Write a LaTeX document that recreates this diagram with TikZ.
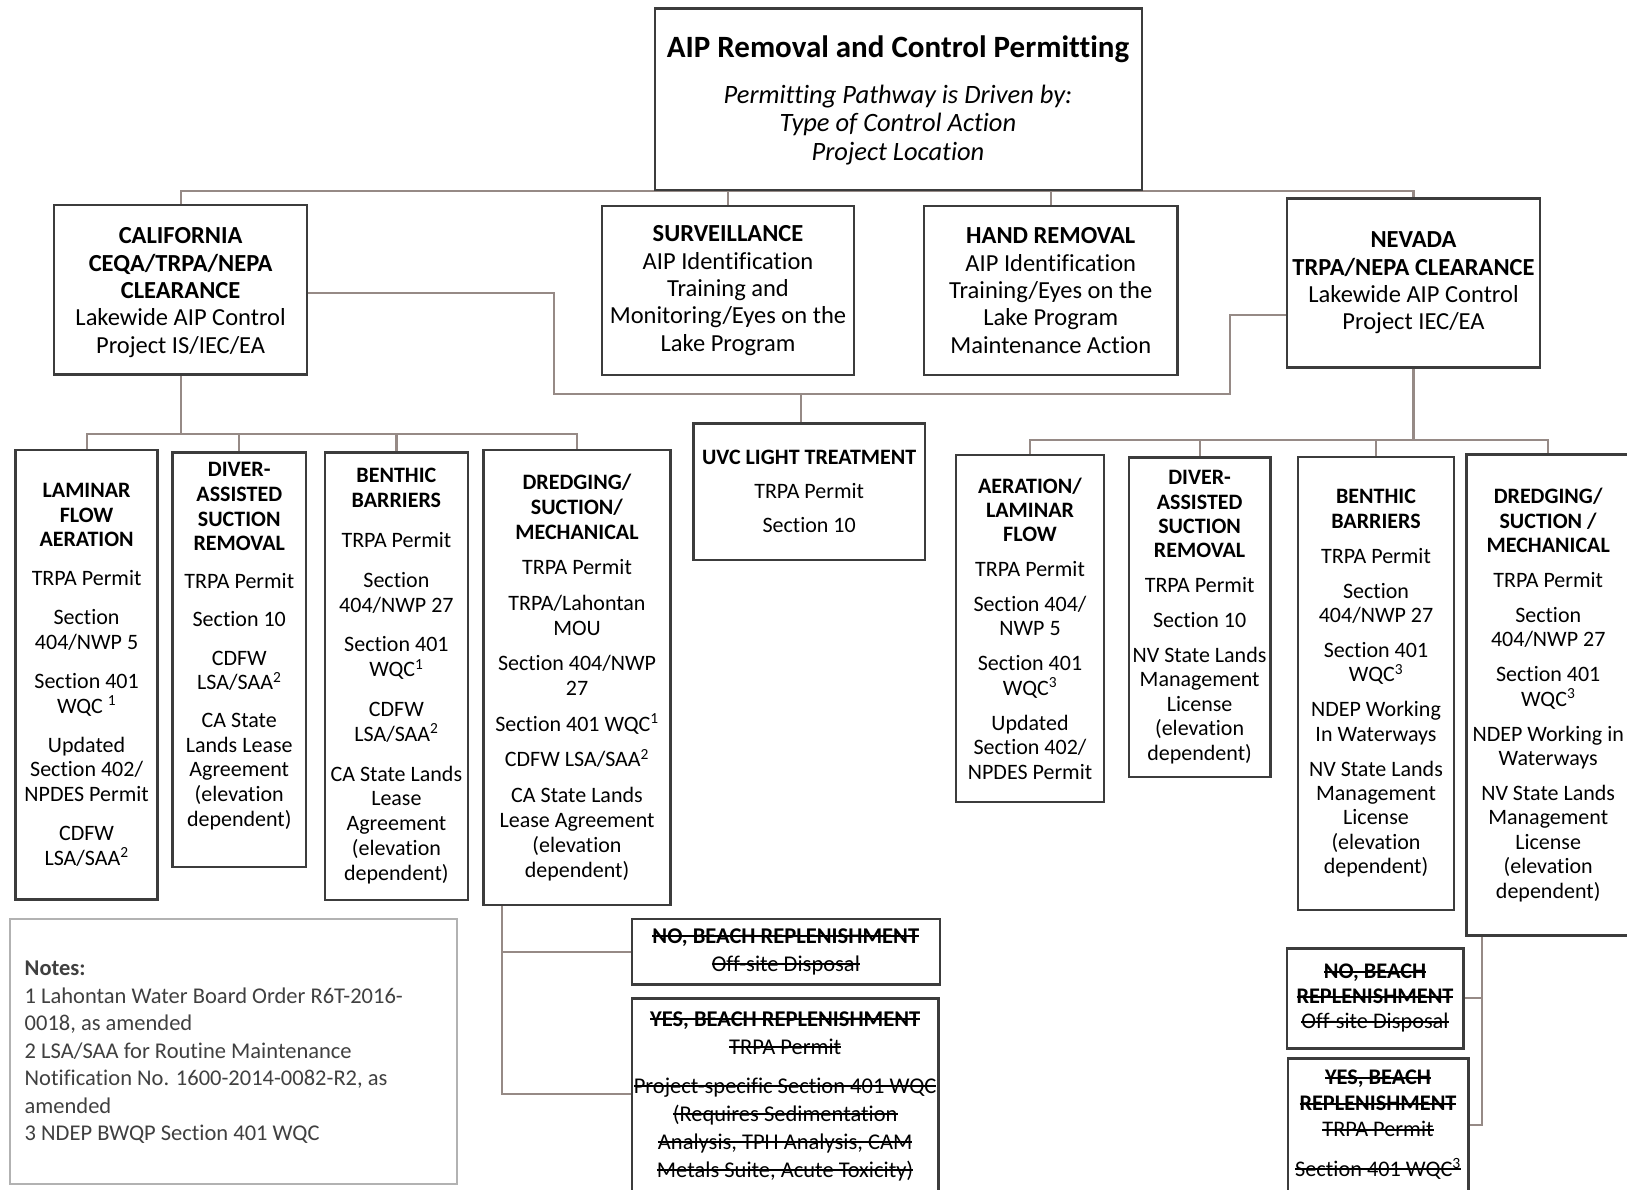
\documentclass[tikz,border=0pt]{standalone}
\usepackage{fontspec}
\setmainfont{Carlito}[Ligatures=NoCommon]
\usetikzlibrary{calc,backgrounds}
\definecolor{boxc}{RGB}{60,60,60}
\definecolor{connc}{RGB}{150,138,134}
\definecolor{notec}{RGB}{178,178,178}
\definecolor{notetext}{RGB}{64,64,64}
\newcommand\fsz[2]{\fontsize{#1pt}{#2pt}\selectfont}
\newcommand\strk[1]{{\setbox0=\hbox{#1}\rlap{\rule[0.28em]{\wd0}{1.7pt}}\box0}}
\begin{document}
\begin{tikzpicture}[x=1pt,y=-1pt,
  rect/.style n args={4}{at={({(#1+#3)/2},{(#2+#4)/2})}, minimum width={#3-#1}, minimum height={#4-#2}},
  box/.style={draw=boxc, line width=2.4pt, inner sep=0pt, align=center, text=black},
  lvl/.style={box, font=\fsz{24.5}{27.4}},
  colca/.style={box, font=\fsz{22}{24.6}},
  colnv/.style={box, font=\fsz{22}{24.4}},
  conn/.style={draw=connc, line width=2.2pt}]
\useasboundingbox (0,0) rectangle (1627,1189);
\clip (0,0) rectangle (1627,1189);

% ---------- top ----------
\node[box, rect={655}{8.3}{1141.7}{190}] (top) {};
\node[font=\fsz{31}{34}\bfseries, inner sep=0pt] (title) at (898,49) {AIP Removal and Control Permitting};
\node[font=\fsz{26.5}{28.8}\itshape, align=center, inner sep=0pt] (drv) at (898,125) {Permitting Pathway is Driven by:\\Type of Control Action\\Project Location};

% ---------- second level ----------
\node[lvl, rect={54.2}{205}{307}{374.3}] (ca) {\mbox{}\\[-5.7pt]\textbf{CALIFORNIA}\\\textbf{CEQA/TRPA/NEPA}\\\textbf{CLEARANCE}\\Lakewide AIP Control\\Project IS/IEC/EA};
\node[lvl, rect={602}{206}{854}{375}] (surv) {\textbf{SURVEILLANCE}\\AIP Identification\\Training and\\Monitoring/Eyes on the\\Lake Program};
\node[lvl, rect={924}{206}{1177.5}{375}] (hand) {\textbf{HAND REMOVAL}\\AIP Identification\\Training/Eyes on the\\Lake Program\\Maintenance Action};
\node[lvl, rect={1287}{198.3}{1540}{367.5}] (nv) {\textbf{NEVADA}\\\textbf{TRPA/NEPA CLEARANCE}\\Lakewide AIP Control\\Project IEC/EA};

% ---------- California columns ----------
\node[colca, rect={15.6}{450}{157.6}{899.3}] (lamca) {\textbf{LAMINAR}\\\textbf{FLOW}\\\textbf{AERATION}\\[14.5pt]TRPA Permit\\[14.5pt]Section\\404/NWP 5\\[14.5pt]Section 401\\WQC \textsuperscript{1}\\[14.5pt]Updated\\Section 402/\\NPDES Permit\\[14.5pt]CDFW\\LSA/SAA\textsuperscript{2}};
\node[colca, rect={172.3}{452.3}{306.2}{866.7}] (divca) {\textbf{DIVER-}\\\textbf{ASSISTED}\\\textbf{SUCTION}\\\textbf{REMOVAL}\\[13.5pt]TRPA Permit\\[13.5pt]Section 10\\[13.5pt]CDFW\\LSA/SAA\textsuperscript{2}\\[13.5pt]CA State\\Lands Lease\\Agreement\\(elevation\\dependent)\\[5.5pt]\mbox{}};
\node[colca, font=\fsz{22}{24.8}, rect={325}{452.3}{467.8}{900}] (benca) {\textbf{BENTHIC}\\\textbf{BARRIERS}\\[15pt]TRPA Permit\\[15pt]Section\\404/NWP 27\\[15pt]Section 401\\WQC\textsuperscript{1}\\[15pt]CDFW\\LSA/SAA\textsuperscript{2}\\[15pt]CA State Lands\\Lease\\Agreement\\(elevation\\dependent)};
\node[colca, font=\fsz{22}{25}, rect={483.5}{450}{670.5}{905}] (dreca) {\textbf{DREDGING/}\\\textbf{SUCTION/}\\\textbf{MECHANICAL}\\[10.5pt]TRPA Permit\\[10.5pt]TRPA/Lahontan\\MOU\\[10.5pt]Section 404/NWP\\27\\[10.5pt]Section 401 WQC\textsuperscript{1}\\[10.5pt]CDFW LSA/SAA\textsuperscript{2}\\[10.5pt]CA State Lands\\Lease Agreement\\(elevation\\dependent)};

% ---------- UVC ----------
\node[colca, rect={693.3}{423.3}{925}{560}] (uvc) {\textbf{UVC LIGHT TREATMENT}\\[9.5pt]TRPA Permit\\[9.5pt]Section 10};

% ---------- Nevada columns ----------
\node[colnv, rect={956}{455}{1104}{801.7}] (aernv) {\textbf{AERATION/}\\\textbf{LAMINAR}\\\textbf{FLOW}\\[10.5pt]TRPA Permit\\[10.5pt]Section 404/\\NWP 5\\[10.5pt]Section 401\\WQC\textsuperscript{3}\\[10.5pt]Updated\\Section 402/\\NPDES Permit};
\node[colnv, rect={1128.7}{457.3}{1270.5}{776.7}] (divnv) {\textbf{DIVER-}\\\textbf{ASSISTED}\\\textbf{SUCTION}\\\textbf{REMOVAL}\\[10.5pt]TRPA Permit\\[10.5pt]Section 10\\[10.5pt]NV State Lands\\Management\\License\\(elevation\\dependent)};
\node[colnv, rect={1298}{456.7}{1454}{910}] (bennv) {\textbf{BENTHIC}\\\textbf{BARRIERS}\\[10.5pt]TRPA Permit\\[10.5pt]Section\\404/NWP 27\\[10.5pt]Section 401\\WQC\textsuperscript{3}\\[10.5pt]NDEP Working\\In Waterways\\[10.5pt]NV State Lands\\Management\\License\\(elevation\\dependent)};
\node[colnv, rect={1466.4}{454.5}{1630}{935.5}] (drenv) {\textbf{DREDGING/}\\\textbf{SUCTION /}\\\textbf{MECHANICAL}\\[10.5pt]TRPA Permit\\[10.5pt]Section\\404/NWP 27\\[10.5pt]Section 401\\WQC\textsuperscript{3}\\[10.5pt]NDEP Working in\\Waterways\\[10.5pt]NV State Lands\\Management\\License\\(elevation\\dependent)};

% ---------- beach replenishment ----------
\node[box, font=\fsz{22.5}{28}, rect={631.8}{919}{939.7}{984.3}] (noca) {\strk{\textbf{NO, BEACH REPLENISHMENT}}\\\strk{Off-site Disposal}};
\node[box, font=\fsz{22.5}{28}, rect={631.8}{998.3}{938.5}{1194}] (yesca) {\strk{\textbf{YES, BEACH REPLENISHMENT}}\\\strk{TRPA Permit}\\[11pt]\strk{Project-specific Section 401 WQC}\\\strk{(Requires Sedimentation}\\\strk{Analysis, TPH Analysis, CAM}\\\strk{Metals Suite, Acute Toxicity)}};
\node[box, font=\fsz{22.3}{25}, rect={1286.7}{948.3}{1463.3}{1048.3}] (nonv) {\strk{\textbf{NO, BEACH}}\\\strk{\textbf{REPLENISHMENT}}\\\strk{Off-site Disposal}};
\node[box, font=\fsz{22.3}{26}, rect={1287.7}{1058.3}{1468.3}{1191}] (yesnv) {\strk{\textbf{YES, BEACH}}\\\strk{\textbf{REPLENISHMENT}}\\\strk{TRPA Permit}\\[13.5pt]\strk{Section 401 WQC\textsuperscript{3}}};

% ---------- notes ----------
\node[draw=notec, line width=2pt, inner sep=0pt, rect={10.4}{919}{457.3}{1184}] (notes) {};
\node[anchor=west, align=left, inner sep=0pt, font=\fsz{22.5}{27.45}, text=notetext] (notestext) at (24.5,1052.5) {\textbf{Notes:}\\1 Lahontan Water Board Order R6T-2016-\\0018, as amended\\2 LSA/SAA for Routine Maintenance\\Notification No. 1600-2014-0082-R2, as\\amended\\3 NDEP BWQP Section 401 WQC};

% ---------- connectors ----------
\begin{scope}[on background layer]
\fill[white] (0,0) rectangle (1627,1189);
\draw[conn] (ca.north) -- (ca.north |- top.south) -- (nv.north |- top.south) -- (nv.north);
\draw[conn] (surv.north) -- (surv.north |- top.south);
\draw[conn] (hand.north) -- (hand.north |- top.south);
\coordinate (xa) at (553.6,394);
\coordinate (xb) at (1230.3,394);
\coordinate (nvin) at ($(nv.west)+(0,32)$);
\coordinate (caout) at ($(ca.east)+(0,3.5)$);
\draw[conn] (caout) -| (xa) -- (xb) |- (nvin);
\coordinate (uvcj) at (801,394);
\draw[conn] (uvcj) -- (uvcj |- uvc.north);
\coordinate (cabusy) at (0,434);
\draw[conn] (ca.south) -- (ca.south |- cabusy);
\draw[conn] (lamca.north) -- (lamca.north |- cabusy) -- (dreca.north |- cabusy) -- (dreca.north);
\draw[conn] (divca.north) -- (divca.north |- cabusy);
\draw[conn] (benca.north) -- (benca.north |- cabusy);
\coordinate (nvbusy) at (0,440);
\draw[conn] (nv.south) -- (nv.south |- nvbusy);
\draw[conn] (aernv.north) -- (aernv.north |- nvbusy) -- (drenv.north |- nvbusy) -- (drenv.north);
\draw[conn] (divnv.north) -- (divnv.north |- nvbusy);
\draw[conn] (bennv.north) -- (bennv.north |- nvbusy);
\coordinate (cbx) at (501.7,1094);
\draw[conn] (cbx |- dreca.south) -- (cbx) -- (cbx -| yesca.west);
\draw[conn] (cbx |- noca.west) -- (noca.west);
\coordinate (nbx) at (1481.7,1125);
\draw[conn] (nbx |- drenv.south) -- (nbx) -- (nbx -| yesnv.east);
\draw[conn] (nbx |- nonv.east) -- (nonv.east);
\end{scope}
\end{tikzpicture}
\end{document}
